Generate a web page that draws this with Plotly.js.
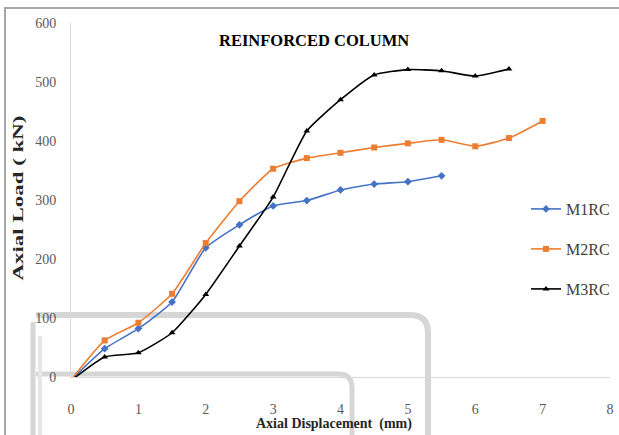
<!DOCTYPE html>
<html>
<head>
<meta charset="utf-8">
<script src="https://cdn.plot.ly/plotly-3.0.1.min.js"></script>
<style>html,body{margin:0;padding:0;background:#fff;}#chart{width:619px;height:435px;}</style>
</head>
<body>
<div id="chart"></div>
<script>
// Data
const displacement = [0, 0.5, 1, 1.5, 2, 2.5, 3, 3.5, 4, 4.5, 5, 5.5, 6, 6.5, 7];
const m1rc = [-5, 48, 82, 127, 219, 258, 290, 299, 317, 327, 331, 341];
const m2rc = [-5, 62, 92, 141, 227, 298, 353, 371, 380, 389, 396, 402, 391, 405, 434];
const m3rc = [-6, 34, 41, 75, 140, 222, 305, 417, 470, 512, 521, 519, 510, 522];
const seriesNames = ["M1RC", "M2RC", "M3RC"];
const xTicks = [0, 1, 2, 3, 4, 5, 6, 7, 8];
const yTicks = [0, 100, 200, 300, 400, 500, 600];

const W = 619, H = 435;
const L = 71, R = 9, T = 23, B = 58;
const pw = W - L - R, ph = H - T - B;
const px = v => (v - L) / pw;
const py = v => (H - B - v) / ph;

const serif = "Liberation Serif, Times New Roman, serif";

function mk(name, y, color, symbol, legend) {
  return {
    x: displacement.slice(0, y.length), y: y, name: name, type: "scatter", mode: "lines+markers",
    line: {color: color, width: 1.6, shape: "spline", smoothing: 0.5},
    marker: {color: color, symbol: symbol, size: 6},
    cliponaxis: false, legend: legend
  };
}

const traces = [
  mk(seriesNames[0], m1rc, "#4472C4", "diamond", "legend"),
  mk(seriesNames[1], m2rc, "#ED7D31", "square", "legend2"),
  mk(seriesNames[2], m3rc, "#000000", "triangle-up", "legend3")
];

function legendAt(yPix) {
  return {x: px(526), y: py(yPix), xanchor: "left", yanchor: "middle",
          bgcolor: "rgba(0,0,0,0)", font: {family: serif, size: 16, color: "#404040"},
          itemwidth: 30};
}

// scan artefact bands and chart frame
const band = "#d6d6d6";
function bandPath(x0, y0, x1, r) {
  return `M ${px(x0)},${py(y0)} L ${px(x1 - r)},${py(y0)} Q ${px(x1)},${py(y0)} ${px(x1)},${py(y0 + r)} L ${px(x1)},${py(H)}`;
}

const shapes = [
  {type: "rect", xref: "paper", yref: "paper", x0: px(5), y0: py(8), x1: px(W + 5), y1: py(H + 5),
   line: {color: "#a6a6a6", width: 2}, layer: "below"},
  {type: "path", xref: "paper", yref: "paper", path: bandPath(36, 315, 428, 18),
   line: {color: band, width: 6}, layer: "below"},
  {type: "path", xref: "paper", yref: "paper", path: bandPath(36, 374, 352, 14),
   line: {color: band, width: 5}, layer: "below"},
  {type: "line", xref: "paper", yref: "paper", x0: px(33), y0: py(322), x1: px(33), y1: py(H),
   line: {color: band, width: 5}, layer: "below"},
  {type: "line", xref: "paper", yref: "paper", x0: px(40), y0: py(336), x1: px(40), y1: py(H),
   line: {color: "#e6e6e6", width: 4}, layer: "below"}
];

const layout = {
  width: W, height: H,
  margin: {l: L, r: R, t: T, b: B, autoexpand: false},
  paper_bgcolor: "#ffffff", plot_bgcolor: "rgba(0,0,0,0)",
  showlegend: true,
  legend: legendAt(209), legend2: legendAt(249), legend3: legendAt(289),
  xaxis: {
    range: [0, 8], tickvals: xTicks, ticktext: xTicks.map(String),
    showgrid: false, zeroline: false, showline: true, linecolor: "#d9d9d9", linewidth: 1,
    ticks: "", ticklabelstandoff: 19,
    tickfont: {family: serif, size: 14, color: "#595959"}, fixedrange: true
  },
  yaxis: {
    range: [0, 600], tickvals: yTicks, ticktext: yTicks.map(String),
    showgrid: false, zeroline: false, showline: true, linecolor: "#d9d9d9", linewidth: 1,
    ticks: "", ticklabelstandoff: 11,
    tickfont: {family: serif, size: 14, color: "#595959"}, fixedrange: true
  },
  annotations: [
    {text: "<b>REINFORCED COLUMN</b>", xref: "paper", yref: "paper", x: px(314), y: py(41),
     xanchor: "center", yanchor: "middle", showarrow: false,
     font: {family: serif, size: 16.5, color: "#000000"}},
    {text: "<b>Axial Displacement  (mm)</b>", xref: "paper", yref: "paper", x: px(334), y: py(424),
     xanchor: "center", yanchor: "middle", showarrow: false,
     font: {family: serif, size: 14, color: "#262626"}},
    {text: "<b>Axial Load ( kN)</b>", xref: "paper", yref: "paper", x: px(18), y: py(198),
     xanchor: "center", yanchor: "middle", textangle: -90, showarrow: false,
     font: {family: serif, size: 15, color: "#262626"}}
  ],
  shapes: shapes
};

Plotly.newPlot("chart", traces, layout, {displayModeBar: false, staticPlot: true}).then(gd => {
  // the reference's y title is drawn stretched along its length
  const texts = gd.querySelectorAll(".annotation-text");
  texts.forEach(t => {
    if (t.textContent.indexOf("Axial Load") === 0) {
      t.setAttribute("textLength", "165");
      t.setAttribute("lengthAdjust", "spacingAndGlyphs");
    }
  });
});
</script>
</body>
</html>
